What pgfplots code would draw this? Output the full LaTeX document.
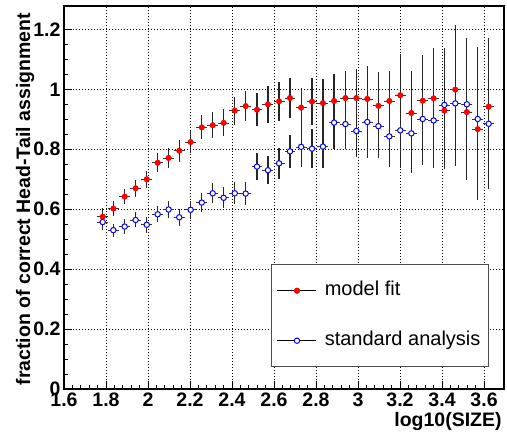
\documentclass[border=0pt]{standalone}
\usepackage{fontspec}
\setmainfont{Liberation Sans}
\usepackage{pgfplots}
\usepackage{pgfplotstable}
\pgfplotsset{compat=1.18}
\usetikzlibrary{calc}

% model fit: log10(SIZE), fraction, error
\pgfplotstableread{
x     y     ey
1.784 0.575 0.030
1.835 0.602 0.024
1.889 0.642 0.026
1.941 0.670 0.028
1.994 0.700 0.028
2.046 0.755 0.032
2.098 0.771 0.033
2.149 0.795 0.036
2.203 0.824 0.037
2.256 0.873 0.040
2.308 0.880 0.043
2.360 0.888 0.045
2.413 0.929 0.047
2.465 0.944 0.049
2.519 0.932 0.055
2.571 0.950 0.062
2.624 0.960 0.065
2.676 0.971 0.066
2.729 0.939 0.067
2.781 0.959 0.078
2.833 0.954 0.082
2.886 0.961 0.089
2.940 0.971 0.090
2.992 0.971 0.097
3.044 0.968 0.110
3.097 0.945 0.112
3.149 0.961 0.100
3.201 0.980 0.139
3.254 0.921 0.140
3.308 0.962 0.154
3.360 0.970 0.168
3.411 0.929 0.195
3.463 0.999 0.217
3.518 0.924 0.225
3.570 0.867 0.235
3.622 0.942 0.229
}\modelfit

% standard analysis
\pgfplotstableread{
x     y     ey
1.784 0.557 0.027
1.835 0.530 0.022
1.889 0.542 0.024
1.941 0.564 0.025
1.994 0.548 0.026
2.046 0.583 0.027
2.098 0.599 0.028
2.149 0.573 0.029
2.203 0.598 0.030
2.256 0.622 0.032
2.308 0.653 0.033
2.360 0.638 0.035
2.413 0.653 0.037
2.465 0.652 0.039
2.519 0.742 0.045
2.571 0.730 0.047
2.624 0.753 0.051
2.676 0.793 0.055
2.729 0.808 0.068
2.781 0.802 0.066
2.833 0.809 0.072
2.886 0.889 0.089
2.940 0.884 0.084
2.992 0.861 0.086
3.044 0.891 0.121
3.097 0.877 0.107
3.149 0.843 0.102
3.201 0.863 0.127
3.254 0.853 0.133
3.308 0.901 0.152
3.360 0.896 0.159
3.411 0.948 0.190
3.463 0.953 0.209
3.518 0.950 0.220
3.570 0.901 0.239
3.622 0.885 0.217
}\standard

\newcommand{\bigfont}{\fontsize{19.5}{21}\selectfont}
\newcommand{\legfont}{\fontsize{20}{22}\selectfont}

\pgfplotsset{
  rootleg/.style={legend image code/.code={
    \draw[black, line width=0.8pt] (0pt,0pt) -- (39pt,0pt);
    \path (45pt,0pt);
    \draw[##1] plot coordinates {(19.5pt,0pt)};}},
  yerr/.style={only marks, mark=none, forget plot,
    error bars/.cd, y dir=both, y explicit, error mark=none,
    error bar style={black!85, line width=1.2pt}},
  xerr/.style={only marks, mark=none, forget plot,
    error bars/.cd, x dir=both, x fixed=0.026, error mark=none,
    error bar style={black!80, line width=0.7pt}},
}

\begin{document}
\begin{tikzpicture}
\begin{axis}[
    scale only axis,
    width=440pt, height=383pt,
    xmin=1.6, xmax=3.695,
    ymin=0, ymax=1.278,
    xtick={1.6,1.8,2,2.2,2.4,2.6,2.8,3,3.2,3.4,3.6},
    ytick={0,0.2,0.4,0.6,0.8,1,1.2},
    minor x tick num=4, minor y tick num=3,
    tick align=inside, xtick pos=left, ytick pos=left,
    major tick length=8pt, minor tick length=4pt,
    tick style={black, line width=0.8pt},
    grid=major,
    grid style={black, line width=0.7pt, dash pattern=on 1pt off 2pt},
    axis line style={line width=1.6pt},
    /pgf/number format/assume math mode=true,
    ticklabel style={font=\bfseries\bigfont},
    xlabel={log10(SIZE)},
    ylabel={fraction of correct Head-Tail assignment},
    label style={font=\bfseries\bigfont, inner sep=0pt},
    xlabel style={at={(axis description cs:0.995,-0.086)}, anchor=east},
    ylabel style={at={(axis description cs:-0.0886,0.982)}, anchor=east},
    legend cell align=left,
    legend style={at={(axis description cs:0.470,0.0574)}, anchor=south west,
      draw=black!70, line width=0.6pt, fill=white, font=\legfont,
      inner xsep=6pt, inner ysep=15pt, row sep=28pt,
      nodes={inner sep=2pt, text height=14pt, text depth=4pt}},
]
\addplot[yerr] table[x=x, y=y, y error=ey] {\modelfit};
\addplot[xerr] table[x=x, y=y] {\modelfit};
\addplot[yerr] table[x=x, y=y, y error=ey] {\standard};
\addplot[xerr] table[x=x, y=y] {\standard};

\addplot[only marks, mark=*, mark size=2.8pt, mark options={draw=red, fill=red}, rootleg]
  table[x=x, y=y] {\modelfit};
\addplot[only marks, mark=*, mark size=2.7pt, mark options={draw=blue, fill=white, line width=1pt}, rootleg]
  table[x=x, y=y] {\standard};
\legend{model fit, standard analysis}
\end{axis}
\pgfresetboundingbox
\path[use as bounding box] ($(current axis.south west)+(-64pt,-48pt)$) rectangle ($(current axis.north east)+(3pt,6pt)$);
\end{tikzpicture}
\end{document}
